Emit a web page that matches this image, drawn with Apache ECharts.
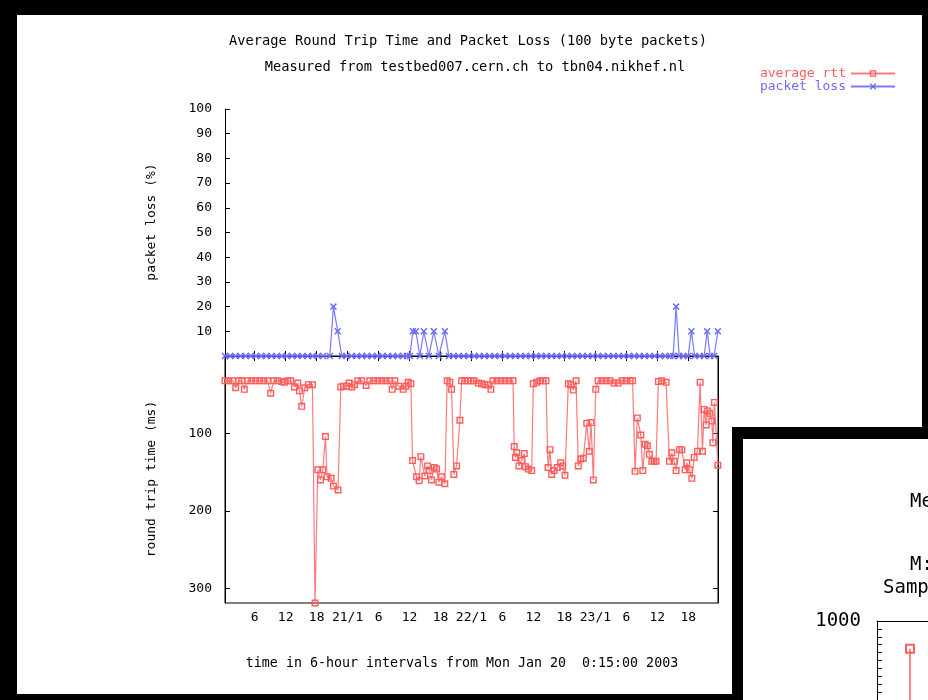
<!DOCTYPE html>
<html>
<head>
<meta charset="utf-8">
<script src="https://cdn.jsdelivr.net/npm/echarts@6/dist/echarts.min.js"></script>
<style>
  html, body { margin: 0; padding: 0; background: #000; }
  #chart { width: 928px; height: 700px; }
</style>
</head>
<body>
<div id="chart"></div>
<script>
// hours since Mon Jan 20 00:00 2003 (first sample at 0:15)
const lossHours = [0.25, 1.25, 2.25, 3.25, 4.25, 5.25, 6.25, 7.25, 8.25, 9.25, 10.25, 11.25, 12.25, 13.25,
  14.25, 15.25, 16.25, 17.25, 18.25, 19.25, 20.55, 21.26, 22.09, 22.87, 23.75, 24.75, 25.75, 26.75,
  27.75, 28.75, 29.75, 30.75, 31.75, 32.75, 33.75, 34.75, 35.5, 36.06, 36.64, 37.22, 37.99, 38.77,
  39.74, 40.71, 41.68, 42.84, 43.62, 44.5, 45.5, 46.5, 47.5, 48.5, 49.5, 50.5, 51.5, 52.5, 53.5,
  54.5, 55.5, 56.5, 57.5, 58.5, 59.5, 60.5, 61.5, 62.5, 63.5, 64.5, 65.5, 66.5, 67.5, 68.5, 69.5,
  70.5, 71.5, 72.5, 73.5, 74.5, 75.5, 76.5, 77.5, 78.5, 79.5, 80.5, 81.5, 82.5, 83.5, 84.5, 85.5,
  86.5, 87.06, 87.64, 88.22, 89.0, 89.96, 90.6, 91.22, 92.2, 93.07, 93.65, 94.23, 95.0, 95.72];
const lossValues = [0, 0, 0, 0, 0, 0, 0, 0, 0, 0, 0, 0, 0, 0,
  0, 0, 0, 0, 0, 0, 0, 20, 10, 0, 0, 0, 0, 0,
  0, 0, 0, 0, 0, 0, 0, 0, 0, 0, 10, 10, 0, 10,
  0, 10, 0, 10, 0, 0, 0, 0, 0, 0, 0, 0, 0, 0, 0,
  0, 0, 0, 0, 0, 0, 0, 0, 0, 0, 0, 0, 0, 0, 0, 0,
  0, 0, 0, 0, 0, 0, 0, 0, 0, 0, 0, 0, 0, 0, 0, 0,
  0, 0, 20, 0, 0, 0, 10, 0, 0, 0, 10, 0, 0, 10];

const rttHours = [0.25, 0.96, 1.73, 2.32, 2.9, 3.48, 4.0, 4.64, 5.42, 6.19, 6.97, 7.74, 8.52, 9.1,
  9.68, 10.46, 11.24, 11.76, 12.4, 12.98, 13.7, 14.34, 14.67, 15.11, 15.7, 16.41, 17.19, 17.69,
  18.22, 18.74, 19.19, 19.71, 20.02, 20.8, 21.26, 22.15, 22.68, 23.2, 23.84, 24.29, 24.81, 25.33,
  25.97, 26.75, 27.58, 28.3, 29.07, 29.85, 30.63, 31.4, 32.18, 32.62, 33.15, 33.92, 34.76, 35.28,
  35.73, 36.25, 36.58, 37.35, 37.86, 38.19, 38.96, 39.49, 39.8, 40.26, 40.77, 41.23, 41.68, 42.2,
  42.84, 43.29, 43.81, 44.14, 44.59, 45.11, 45.75, 46.08, 46.72, 47.3, 47.88, 48.47, 49.3, 49.96,
  50.6, 51.24, 51.76, 52.15, 52.93, 53.7, 54.48, 55.25, 56.03, 56.28, 56.51, 56.75, 57.19, 57.72,
  58.22, 58.45, 59.0, 59.66, 59.97, 60.63, 61.26, 61.85, 62.43, 62.82, 63.2, 63.53, 63.98, 64.62,
  65.28, 65.67, 66.11, 66.75, 67.22, 67.72, 68.25, 68.69, 69.16, 69.66, 70.32, 70.82, 71.15, 71.6,
  72.07, 72.51, 73.29, 74.06, 74.84, 75.61, 76.39, 77.17, 77.94, 78.72, 79.2, 79.69, 80.13, 80.79,
  81.18, 81.62, 82.07, 82.46, 82.93, 83.37, 83.76, 84.2, 84.86, 85.7, 86.34, 86.8, 87.25, 87.64,
  88.28, 88.74, 89.38, 89.71, 90.22, 90.68, 91.13, 91.77, 92.29, 92.74, 93.07, 93.45, 93.71, 94.09,
  94.56, 94.75, 95.06, 95.72];
const rttValues = [32, 32, 32, 41, 32, 32, 43, 32, 32, 32, 32, 32, 32, 48,
  32, 32, 33, 34, 32, 32, 40, 35, 45, 65, 41, 37, 37, 319,
  147, 160, 147, 104, 156, 158, 168, 173, 40, 39, 39, 35, 40, 37,
  32, 32, 38, 32, 32, 32, 32, 32, 32, 43, 32, 39, 43, 39,
  34, 36, 135, 156, 161, 130, 155, 142, 148, 160, 144, 146, 163, 156,
  165, 32, 34, 43, 153, 142, 83, 32, 32, 32, 32, 32, 35, 36,
  37, 37, 43, 32, 32, 32, 32, 32, 32, 117, 131, 125, 142, 135,
  126, 143, 146, 148, 36, 34, 32, 32, 32, 144, 121, 153, 148, 144,
  138, 142, 154, 36, 37, 44, 32, 142, 133, 132, 87, 123, 86, 160,
  43, 32, 32, 32, 32, 35, 35, 32, 32, 32, 32, 149, 80, 102,
  148, 114, 116, 127, 136, 136, 136, 33, 32, 34, 136, 125, 136, 148,
  121, 121, 147, 138, 147, 158, 131, 123, 34, 123, 69, 89, 71, 74,
  84, 112, 60, 141];

const tickHours = [6, 12, 18, 24, 30, 36, 42, 48, 54, 60, 66, 72, 78, 84, 90];
const tickLabels = ['6', '12', '18', '21/1', '6', '12', '18', '22/1', '6', '12', '18', '23/1', '6', '12', '18'];
const lossTicks = [10, 20, 30, 40, 50, 60, 70, 80, 90, 100];
const rttTicks = [100, 200, 300];

// the window behind, only its top-left corner shows
const backX = [64.7, 64.7];
const backValues = [912, 600];

const mono = 'DejaVu Sans Mono';
const rttColor = '#ff5c5c';
const lossColor = '#6a6aff';
const squareSym = 'path://M0,0H10V10H0ZM2,2V8H8V2Z';
const crossSym = 'path://M0,1.5L1.5,0L5,3.5L8.5,0L10,1.5L6.5,5L10,8.5L8.5,10L5,6.5L1.5,10L0,8.5L3.5,5Z';

const chart = echarts.init(document.getElementById('chart'));

const axisTxt = { fontFamily: mono, fontSize: 13, color: '#000' };
const blackLine = { lineStyle: { color: '#000', width: 1 } };

chart.setOption({
  animation: false,
  backgroundColor: '#000',
  textStyle: { fontFamily: mono },
  graphic: [
    { type: 'rect', z: -10, shape: { x: 17, y: 15, width: 905, height: 679 }, style: { fill: '#fff' } },
    { type: 'rect', z: -9, shape: { x: 732, y: 427, width: 196, height: 273 }, style: { fill: '#000' } },
    { type: 'rect', z: -8, shape: { x: 743, y: 439, width: 185, height: 261 }, style: { fill: '#fff' } },
    { type: 'text', x: 468, y: 41, style: { text: 'Average Round Trip Time and Packet Loss (100 byte packets)', font: '13.7px ' + mono, fill: '#000', textAlign: 'center', textVerticalAlign: 'middle' } },
    { type: 'text', x: 475, y: 67, style: { text: 'Measured from testbed007.cern.ch to tbn04.nikhef.nl', font: '13.7px ' + mono, fill: '#000', textAlign: 'center', textVerticalAlign: 'middle' } },
    { type: 'text', x: 152, y: 222, rotation: Math.PI / 2, style: { text: 'packet loss (%)', font: '13px ' + mono, fill: '#000', textAlign: 'center', textVerticalAlign: 'middle' } },
    { type: 'text', x: 152, y: 479, rotation: Math.PI / 2, style: { text: 'round trip time (ms)', font: '13px ' + mono, fill: '#000', textAlign: 'center', textVerticalAlign: 'middle' } },
    { type: 'text', x: 462, y: 664, style: { text: 'time in 6-hour intervals from Mon Jan 20  0:15:00 2003', font: '13.3px ' + mono, fill: '#000', textAlign: 'center', textVerticalAlign: 'middle' } },
    { type: 'text', x: 910, y: 502, style: { text: 'Me', font: '19px ' + mono, fill: '#000', textVerticalAlign: 'middle' } },
    { type: 'text', x: 910, y: 565, style: { text: 'M:', font: '19px ' + mono, fill: '#000', textVerticalAlign: 'middle' } },
    { type: 'text', x: 883, y: 588, style: { text: 'Samp', font: '19px ' + mono, fill: '#000', textVerticalAlign: 'middle' } }
  ],
  legend: {
    orient: 'vertical',
    right: 27,
    top: 62,
    align: 'right',
    itemWidth: 44,
    itemHeight: 8,
    itemGap: 0,
    textStyle: { fontFamily: mono, fontSize: 13 },
    data: [
      { name: 'average rtt', textStyle: { color: rttColor } },
      { name: 'packet loss', textStyle: { color: lossColor } }
    ]
  },
  grid: [
    { left: 225, top: 109, width: 493, height: 247, show: false },
    { left: 225, top: 356, width: 493, height: 247, show: true, borderColor: '#000', borderWidth: 1 },
    { left: 877, right: 0, top: 621, bottom: 0, show: false }
  ],
  xAxis: [
    { gridIndex: 0, type: 'value', min: 0.25, max: 95.75, axisLine: blackLine,
      axisTick: { show: false }, axisLabel: { show: false }, splitLine: { show: false } },
    { gridIndex: 1, type: 'value', position: 'bottom', min: 0.25, max: 95.75, axisLine: blackLine,
      axisTick: { inside: true, length: 5, customValues: tickHours, lineStyle: { color: '#000' } },
      axisLabel: Object.assign({ customValues: tickHours, margin: 8,
        formatter: v => tickLabels[tickHours.indexOf(v)] }, axisTxt),
      splitLine: { show: false } },
    { gridIndex: 1, type: 'value', position: 'top', min: 0.25, max: 95.75, axisLine: blackLine,
      axisTick: { inside: true, length: 5, customValues: tickHours, lineStyle: { color: '#000' } },
      axisLabel: { show: false }, splitLine: { show: false } },
    { gridIndex: 2, type: 'value', position: 'top', min: 0, max: 100, axisLine: blackLine,
      axisTick: { show: false }, axisLabel: { show: false }, splitLine: { show: false } }
  ],
  yAxis: [
    { gridIndex: 0, type: 'value', min: 0, max: 100, axisLine: { show: true, lineStyle: { color: '#000' } },
      axisTick: { inside: true, length: 5, customValues: lossTicks, lineStyle: { color: '#000' } },
      axisLabel: Object.assign({ customValues: lossTicks, margin: 13 }, axisTxt),
      splitLine: { show: false } },
    { gridIndex: 1, type: 'value', inverse: true, min: 0, max: 319, position: 'left',
      axisLine: { show: true, lineStyle: { color: '#000' } },
      axisTick: { inside: true, length: 5, customValues: rttTicks, lineStyle: { color: '#000' } },
      axisLabel: Object.assign({ customValues: rttTicks, margin: 13 }, axisTxt),
      splitLine: { show: false } },
    { gridIndex: 1, type: 'value', inverse: true, min: 0, max: 319, position: 'right',
      axisLine: { show: true, lineStyle: { color: '#000' } },
      axisTick: { inside: true, length: 5, customValues: rttTicks, lineStyle: { color: '#000' } },
      axisLabel: { show: false }, splitLine: { show: false } },
    { gridIndex: 2, type: 'value', min: 750, max: 1000, interval: 250,
      axisLine: { show: true, lineStyle: { color: '#000' } },
      axisTick: { inside: true, length: 6, lineStyle: { color: '#000' } },
      minorTick: { show: true, splitNumber: 10, length: 5, lineStyle: { color: '#000' } },
      axisLabel: { margin: 16, fontFamily: mono, fontSize: 19, color: '#000',
        formatter: v => (v === 1000 ? '1000' : '') },
      splitLine: { show: false } }
  ],
  series: [
    {
      name: 'average rtt', type: 'line', xAxisIndex: 1, yAxisIndex: 1,
      data: rttHours.map((h, i) => [h, rttValues[i]]),
      symbol: squareSym, symbolSize: 7,
      itemStyle: { color: rttColor },
      lineStyle: { color: '#ff7a7a', width: 1.2 },
      clip: false
    },
    {
      name: 'packet loss', type: 'line', xAxisIndex: 0, yAxisIndex: 0,
      data: lossHours.map((h, i) => [h, lossValues[i]]),
      symbol: crossSym, symbolSize: 7,
      itemStyle: { color: lossColor },
      lineStyle: { color: '#7a7aff', width: 1.2 },
      clip: false
    },
    {
      name: 'back', type: 'line', xAxisIndex: 3, yAxisIndex: 3,
      data: backX.map((x, i) => [x, backValues[i]]),
      symbol: squareSym, symbolSize: 10,
      itemStyle: { color: rttColor },
      lineStyle: { color: rttColor, width: 1.5 },
      clip: true
    }
  ]
});
</script>
</body>
</html>
